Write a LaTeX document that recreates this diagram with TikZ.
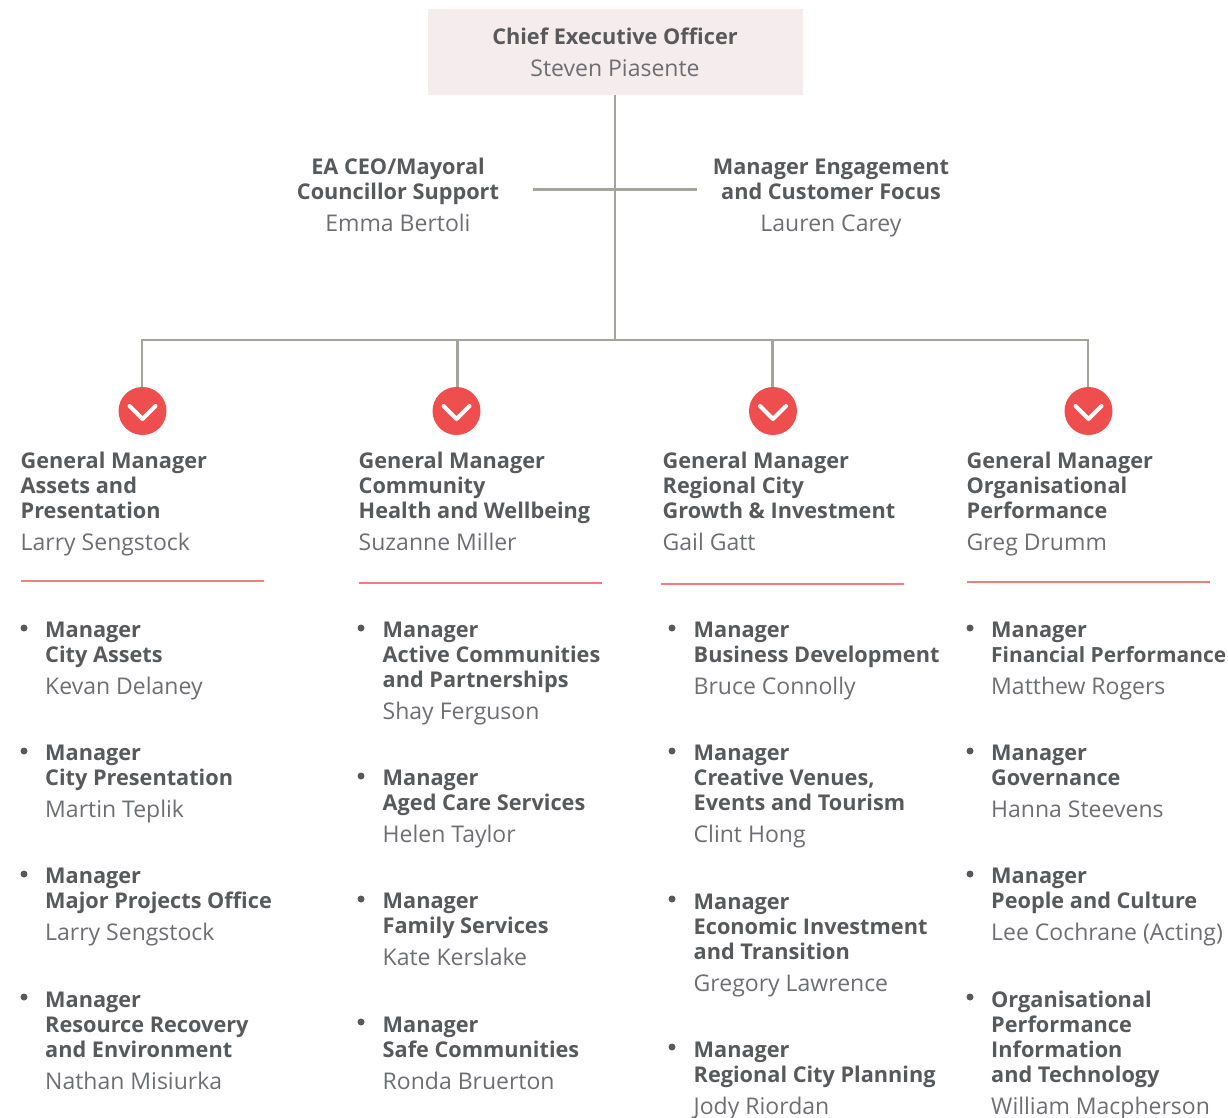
\documentclass[tikz,border=0pt]{standalone}
\usepackage{fontspec}
\setmainfont{Open Sans}
\definecolor{boldtxt}{HTML}{58595B}
\definecolor{regtxt}{HTML}{6D6E71}
\definecolor{ceofill}{HTML}{F5ECEE}
\definecolor{linegrey}{HTML}{A3A49C}
\definecolor{redc}{HTML}{EF4E4E}
\definecolor{redl}{HTML}{F47C7C}
\newcommand{\nm}[1]{\\[7pt]{\fontsize{23}{25}\fontseries{m}\selectfont\color{regtxt}#1}}
\tikzset{
 blk/.style={inner sep=0pt,anchor=base west,align=left,text=boldtxt,font=\fontsize{21.7}{25}\selectfont\bfseries},
 blkc/.style={blk,anchor=base,align=center},
 conn/.style={draw=linegrey,line width=2.2pt},
 redline/.style={draw=redl,line width=1.5pt},
 bul/.style={circle,fill=boldtxt,inner sep=0pt,minimum size=7pt},
 badge/.style={circle,fill=redc,inner sep=0pt,minimum size=48pt},
 chev/.style={draw=white,line width=4pt,line cap=round,line join=round}
}
\begin{document}
\begin{tikzpicture}[x=1pt,y=-1pt]
\useasboundingbox (0,0) rectangle (1228,1118);
\node[fill=ceofill,minimum width=375pt,minimum height=86pt,inner sep=0pt] (ceo) at (615.5,52) {};
\node[blkc] (ceot) at (615,77) {Chief Executive Officer\nm{Steven Piasente}};
\node[blkc] (ea) at (398,231) {EA CEO/Mayoral\\Councillor Support\nm{Emma Bertoli}};
\node[blkc] (eng) at (831,231) {Manager Engagement\\and Customer Focus\nm{Lauren Carey}};
\coordinate (ceob) at (615,95);
\coordinate (eal) at (533,189.5);
\coordinate (ear) at (697,189.5);
\coordinate (j0) at (615,340);
\coordinate (j1) at (142,340);
\coordinate (j2) at (457.5,340);
\coordinate (j3) at (772.5,340);
\coordinate (j4) at (1088,340);
\node[badge] (b1) at (142.5,411) {};
\node[badge] (b2) at (456.5,411) {};
\node[badge] (b3) at (773,411) {};
\node[badge] (b4) at (1088.5,411) {};
\draw[conn] (ceob) -- (j0);
\draw[conn] (eal) -- (ear);
\draw[conn] (j1 |- b1.north) -- (j1) -- (j4) -- (j4 |- b4.north);
\draw[conn] (j2) -- (j2 |- b2.north);
\draw[conn] (j3) -- (j3 |- b3.north);
\foreach \b in {b1,b2,b3,b4}{
 \draw[chev] ([shift={(-13,-5)}]\b.center) -- ([shift={(0,8)}]\b.center) -- ([shift={(13,-5)}]\b.center);
}
% GM blocks
\node[blk] (g1) at (20.5,550) {General Manager\\Assets and\\Presentation\nm{Larry Sengstock}};
\node[blk] (g2) at (358.5,550) {General Manager\\Community\\Health and Wellbeing\nm{Suzanne Miller}};
\node[blk] (g3) at (662.5,550) {General Manager\\Regional City\\Growth \& Investment\nm{Gail Gatt}};
\node[blk] (g4) at (966.5,550) {General Manager\\Organisational\\Performance\nm{Greg Drumm}};
\coordinate (r1a) at (21,581); \coordinate (r1b) at (264,581);
\coordinate (r2a) at (359,583); \coordinate (r2b) at (602,583);
\coordinate (r3a) at (661,584); \coordinate (r3b) at (904,584);
\coordinate (r4a) at (967,582); \coordinate (r4b) at (1210,582);
\draw[redline] (r1a) -- (r1b);
\draw[redline] (r2a) -- (r2b);
\draw[redline] (r3a) -- (r3b);
\draw[redline] (r4a) -- (r4b);
% column 1
\node[bul] (p11) at (24,628) {}; \node[blk] (m11) at (45,694) {Manager\\City Assets\nm{Kevan Delaney}};
\node[bul] (p12) at (24,751) {}; \node[blk] (m12) at (45,817) {Manager\\City Presentation\nm{Martin Teplik}};
\node[bul] (p13) at (24,874) {}; \node[blk] (m13) at (45,940) {Manager\\Major Projects Office\nm{Larry Sengstock}};
\node[bul] (p14) at (24,997) {}; \node[blk] (m14) at (45,1089) {Manager\\Resource Recovery\\and Environment\nm{Nathan Misiurka}};
% column 2
\node[bul] (p21) at (361,628) {}; \node[blk] (m21) at (382.5,719) {Manager\\Active Communities\\and Partnerships\nm{Shay Ferguson}};
\node[bul] (p22) at (361,776) {}; \node[blk] (m22) at (382.5,842) {Manager\\Aged Care Services\nm{Helen Taylor}};
\node[bul] (p23) at (361,899) {}; \node[blk] (m23) at (382.5,965) {Manager\\Family Services\nm{Kate Kerslake}};
\node[bul] (p24) at (361,1022) {}; \node[blk] (m24) at (382.5,1089) {Manager\\Safe Communities\nm{Ronda Bruerton}};
% column 3
\node[bul] (p31) at (672,628) {}; \node[blk] (m31) at (693.5,694) {Manager\\Business Development\nm{Bruce Connolly}};
\node[bul] (p32) at (672,751) {}; \node[blk] (m32) at (693.5,842) {Manager\\Creative Venues,\\Events and Tourism\nm{Clint Hong}};
\node[bul] (p33) at (672,899) {}; \node[blk] (m33) at (693.5,991) {Manager\\Economic Investment\\and Transition\nm{Gregory Lawrence}};
\node[bul] (p34) at (672,1047) {}; \node[blk] (m34) at (693.5,1114) {Manager\\Regional City Planning\nm{Jody Riordan}};
% column 4
\node[bul] (p41) at (970,628) {}; \node[blk] (m41) at (991,694) {Manager\\{\fontsize{20.9}{25}\selectfont Financial Performance}\nm{Matthew Rogers}};
\node[bul] (p42) at (970,751) {}; \node[blk] (m42) at (991,817) {Manager\\Governance\nm{Hanna Steevens}};
\node[bul] (p43) at (970,874) {}; \node[blk] (m43) at (991,940) {Manager\\People and Culture\nm{Lee Cochrane (Acting)}};
\node[bul] (p44) at (970,997) {}; \node[blk] (m44) at (991,1114) {Organisational\\Performance\\Information\\and Technology\nm{William Macpherson}};
\end{tikzpicture}
\end{document}
